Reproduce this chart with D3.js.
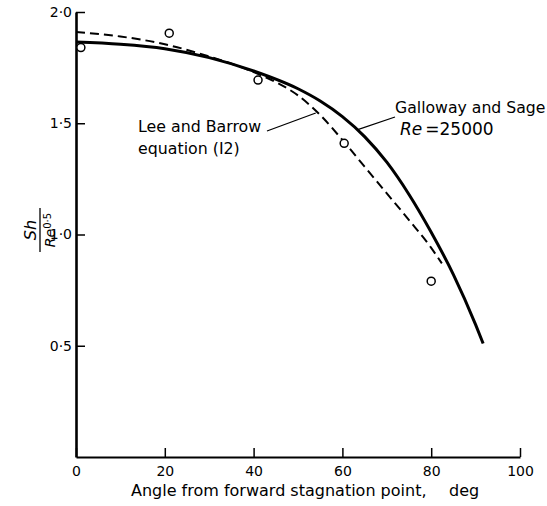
<!DOCTYPE html>
<meta charset='utf-8'>
<style>
  body { margin: 0; background: #fff; }
  text { font-family: 'DejaVu Sans', sans-serif; fill: #000; }
  .axis path, .axis line { stroke: #000; }
  .axis text { font-size: 14px; }
  .curve { fill: none; stroke: #000; }
</style>
<svg width='547' height='506'></svg>
<script src="https://d3js.org/d3.v7.min.js"></script>
<script>
  // ticks
  var angleTicks = [0, 20, 40, 60, 80, 100];
  var shTicks = [0.5, 1.0, 1.5, 2.0];

  // Galloway and Sage, Re = 25000 (solid)
  var gsAngle = [0, 10, 20, 30, 40, 50, 55, 60, 65, 70, 75, 80, 85, 90, 91.7];
  var gsSh = [1.865, 1.855, 1.835, 1.795, 1.735, 1.655, 1.60, 1.53, 1.44, 1.325, 1.18, 1.01, 0.82, 0.595, 0.51];

  // Lee and Barrow, equation (12) (dashed)
  var lbAngle = [0, 10, 20, 30, 40, 45, 50, 55, 60, 65, 70, 75, 80, 82.4];
  var lbSh = [1.91, 1.89, 1.855, 1.80, 1.73, 1.685, 1.625, 1.537, 1.425, 1.305, 1.185, 1.065, 0.94, 0.87];

  // measured points
  var ptAngle = [1.1, 21, 41, 60.4, 80];
  var ptSh = [1.84, 1.905, 1.694, 1.41, 0.79];

  var svg = d3.select('svg');

  var x = d3.scaleLinear().domain([0, 100]).range([76, 520]);
  var y = d3.scaleLinear().domain([0, 2]).range([457, 12]);

  var dot = function(d) { return d3.format('.1f')(d).replace('.', '\u00b7'); };

  // x axis
  var gx = svg.append('g')
    .attr('class', 'axis')
    .attr('transform', 'translate(0,' + y(0) + ')')
    .call(d3.axisBottom(x).tickValues(angleTicks).tickSizeInner(-9).tickSizeOuter(0).tickPadding(6).tickFormat(d3.format('d')));
  gx.select('.domain').attr('stroke-width', 1.8);
  gx.selectAll('.tick line').attr('stroke-width', 1.5);
  gx.selectAll('.tick text').attr('dy', '0.95em');

  // y axis
  var gy = svg.append('g')
    .attr('class', 'axis')
    .attr('transform', 'translate(' + x(0) + ',0)')
    .call(d3.axisLeft(y).tickValues(shTicks).tickSizeInner(-9).tickSizeOuter(0).tickPadding(4).tickFormat(dot));
  gy.select('.domain').attr('stroke-width', 2.6);
  gy.selectAll('.tick line').attr('stroke-width', 1.5);

  // curves
  function lineOf(xs, ys) {
    return d3.line()
      .x(function(d) { return x(d); })
      .y(function(d, i) { return y(ys[i]); })
      .curve(d3.curveMonotoneX)(xs);
  }

  svg.append('path').attr('class', 'curve')
    .attr('d', lineOf(gsAngle, gsSh))
    .attr('stroke-width', 3);

  svg.append('path').attr('class', 'curve')
    .attr('d', lineOf(lbAngle, lbSh))
    .attr('stroke-width', 2)
    .attr('stroke-dasharray', '9,5');

  svg.selectAll('.pt').data(ptAngle).enter().append('circle')
    .attr('class', 'pt')
    .attr('cx', function(d) { return x(d); })
    .attr('cy', function(d, i) { return y(ptSh[i]); })
    .attr('r', 4)
    .attr('fill', '#fff')
    .attr('stroke', '#000')
    .attr('stroke-width', 1.5);

  // annotations
  svg.append('text').attr('x', 138).attr('y', 132).style('font-size', '15.8px').text('Lee and Barrow');
  svg.append('text').attr('x', 138).attr('y', 154).style('font-size', '15.8px').text('equation (I2)');
  svg.append('line').attr('x1', 267).attr('y1', 131).attr('x2', x(54)).attr('y2', y(1.555) + 2)
    .attr('stroke', '#000').attr('stroke-width', 1.3);

  svg.append('text').attr('x', 395).attr('y', 113).style('font-size', '15.7px').text('Galloway and Sage');
  var re = svg.append('text').attr('x', 400).attr('y', 135).style('font-size', '17px');
  re.append('tspan').style('font-style', 'italic').text('Re');
  re.append('tspan').attr('dx', 3).text('=25000');
  svg.append('line').attr('x1', 395).attr('y1', 117).attr('x2', x(63.3)).attr('y2', y(1.47))
    .attr('stroke', '#000').attr('stroke-width', 1.3);

  // axis titles
  svg.append('text').attr('x', 131).attr('y', 496).style('font-size', '16px')
    .text('Angle from forward stagnation point,');
  svg.append('text').attr('x', 449).attr('y', 496).style('font-size', '16px').text('deg');

  var ylab = svg.append('g').attr('transform', 'translate(40,230) rotate(-90)');
  ylab.append('text').attr('x', 0).attr('y', -4).attr('text-anchor', 'middle')
    .style('font-size', '16px').style('font-style', 'italic').text('Sh');
  ylab.append('line').attr('x1', -22).attr('x2', 22).attr('y1', 0).attr('y2', 0)
    .attr('stroke', '#000').attr('stroke-width', 1.3);
  var den = ylab.append('text').attr('x', 0).attr('y', 15).attr('text-anchor', 'middle').style('font-size', '14px');
  den.append('tspan').style('font-style', 'italic').text('Re');
  den.append('tspan').style('font-size', '10px').attr('dy', -4).text('0\u00b75');
</script>
